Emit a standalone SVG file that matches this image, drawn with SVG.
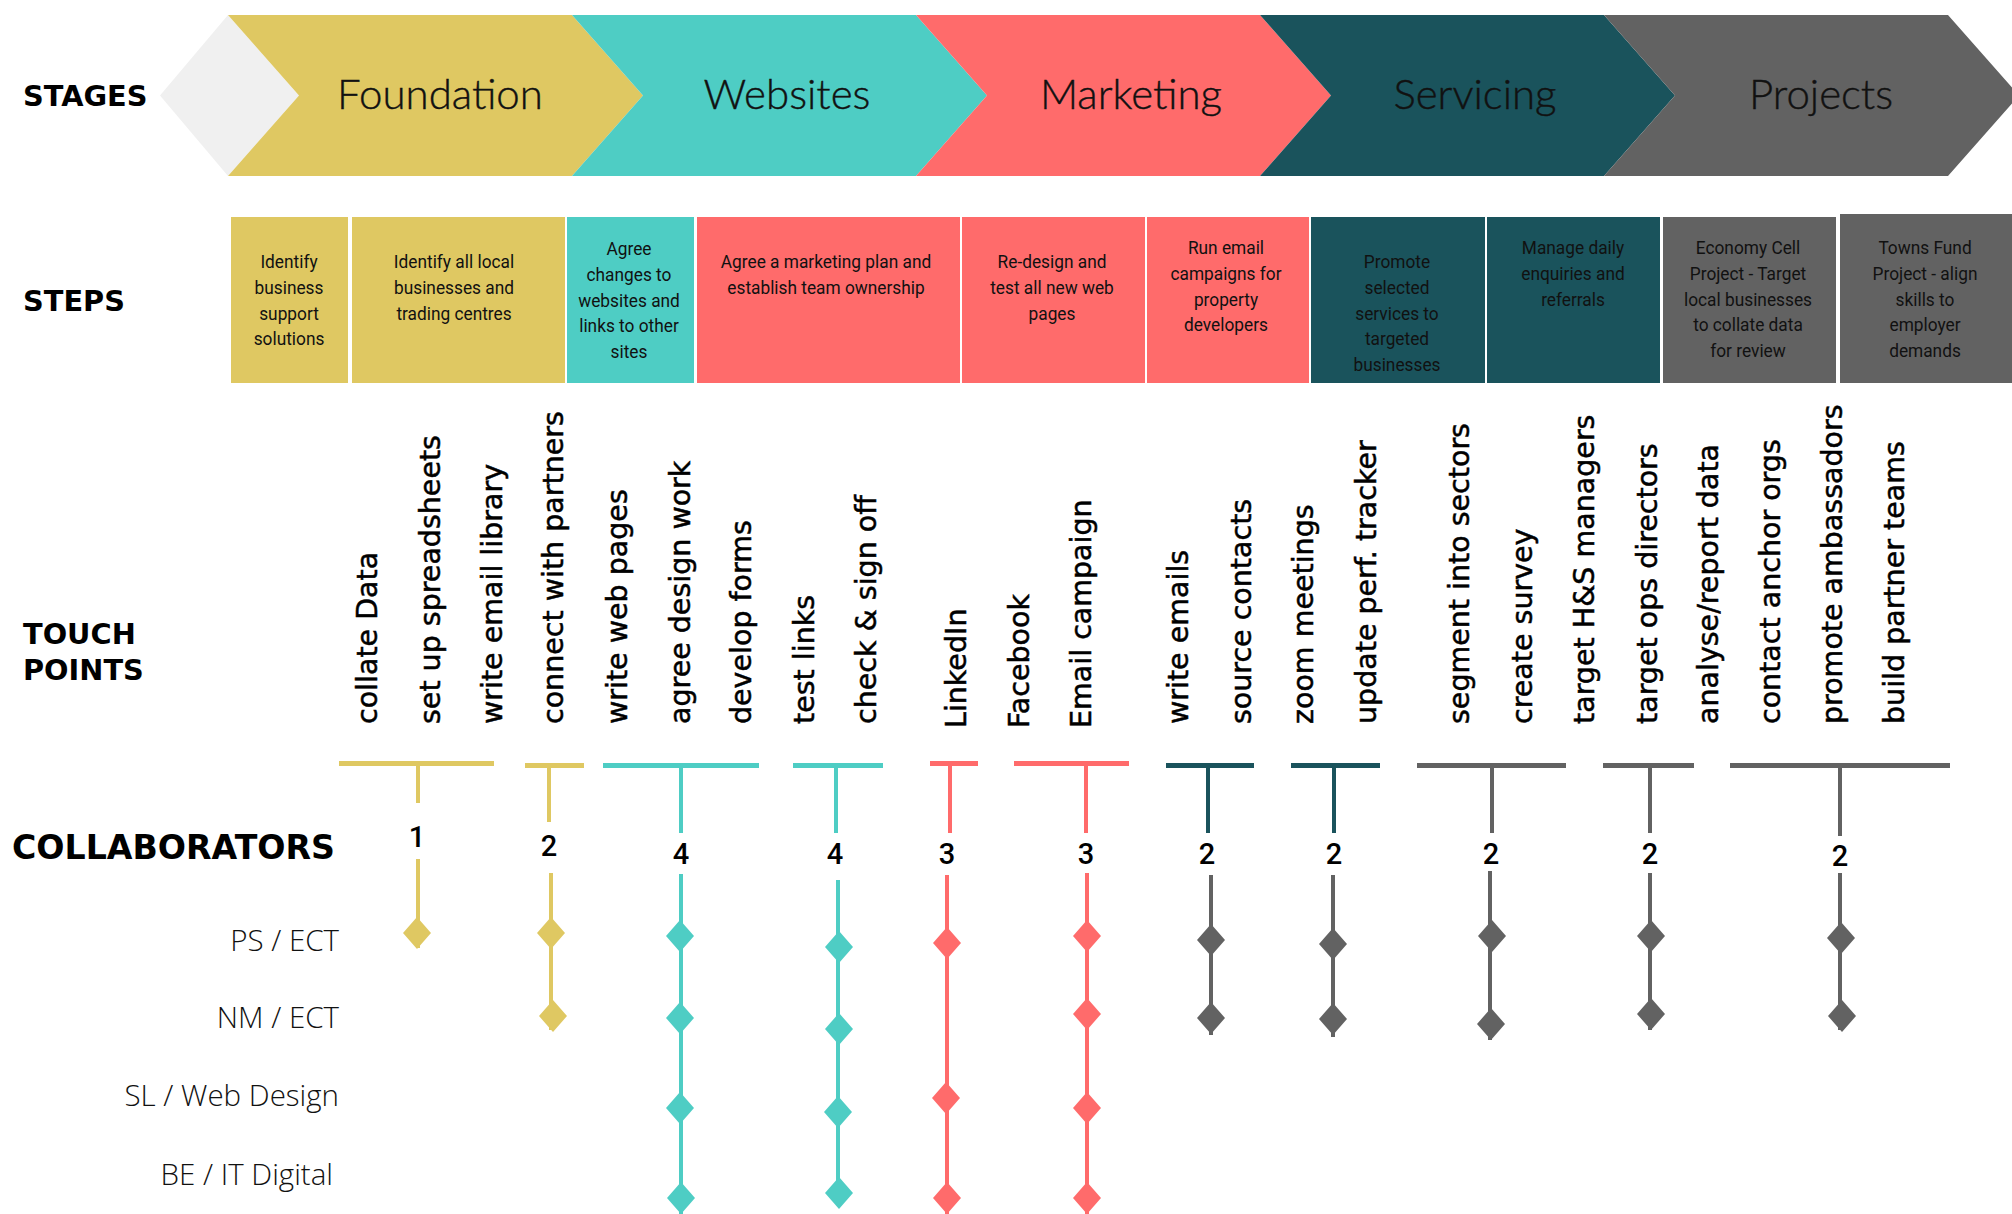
<svg xmlns="http://www.w3.org/2000/svg" xmlns:xlink="http://www.w3.org/1999/xlink" width="2012" height="1214" viewBox="0 0 2012 1214">
  <style>
    .hdr { font-family: "DejaVu Sans", "Liberation Sans", sans-serif; font-weight: bold; font-size: 28.8px; fill: #000; }
    .stage { font-family: Lato, "Open Sans", sans-serif; font-weight: 300; font-size: 42px; fill: #111; text-anchor: middle; stroke: #111; stroke-width: 0.4; }
    .step { font-family: Roboto, "Liberation Sans", sans-serif; font-size: 19px; fill: #111; text-anchor: middle; }
    .tp { font-family: "DejaVu Sans", "Liberation Sans", sans-serif; font-size: 28.5px; fill: #000; stroke: #000; stroke-width: 0.5; }
    .num { font-family: Roboto, "Liberation Sans", sans-serif; font-weight: 500; font-size: 29px; fill: #000; text-anchor: middle; }
    .who { font-family: "Open Sans", "Liberation Sans", sans-serif; font-weight: 300; font-size: 29.5px; fill: #111; text-anchor: end; }
    .yel { fill: #DFC862; } .tea { fill: #4ECDC4; } .cor { fill: #FF6B6B; } .dtl { fill: #1A535C; } .gry { fill: #626262; }
    .s-yel { stroke: #DFC862; } .s-tea { stroke: #4ECDC4; } .s-cor { stroke: #FF6B6B; } .s-dtl { stroke: #1A535C; } .s-gry { stroke: #626262; }
    .bar { stroke-width: 5; fill: none; }
    .stem { stroke-width: 4; fill: none; }
  </style>
  <defs>
    <path id="dia" d="M0,-16 L14,0 L0,16 L-14,0 Z"/>
  </defs>

  <rect width="2012" height="1214" fill="#fff"/>

  <!-- row headings -->
  <g id="headings">
    <text class="hdr" x="23" y="106">STAGES</text>
    <text class="hdr" x="23" y="311">STEPS</text>
    <text class="hdr" x="23" y="644">TOUCH</text>
    <text class="hdr" x="23" y="680">POINTS</text>
    <text class="hdr" x="12" y="859" style="font-size:33.2px">COLLABORATORS</text>
  </g>

  <!-- stage chevrons -->
  <g id="stage-start">
    <polygon points="228,15 299,95.5 228,176 160,95.5" fill="#F0F0F0"/>
  </g>
  <g id="stage-foundation">
    <polygon class="yel" points="228,15 572,15 643,95.5 572,176 228,176 299,95.5"/>
    <text class="stage" x="440" y="109">Foundation</text>
  </g>
  <g id="stage-websites">
    <polygon class="tea" points="572,15 916,15 987,95.5 916,176 572,176 643,95.5"/>
    <text class="stage" x="787" y="109">Websites</text>
  </g>
  <g id="stage-marketing">
    <polygon class="cor" points="916,15 1260,15 1331,95.5 1260,176 916,176 987,95.5"/>
    <text class="stage" x="1131" y="109">Marketing</text>
  </g>
  <g id="stage-servicing">
    <polygon class="dtl" points="1260,15 1604,15 1675,95.5 1604,176 1260,176 1331,95.5"/>
    <text class="stage" x="1475" y="109">Servicing</text>
  </g>
  <g id="stage-projects">
    <polygon class="gry" points="1604,15 1948,15 2019,95.5 1948,176 1604,176 1675,95.5"/>
    <text class="stage" x="1821" y="109">Projects</text>
  </g>

  <!-- step boxes -->
  <g id="step-1">
    <rect class="yel" x="231" y="217" width="117" height="166"/>
    <g transform="translate(289,0) scale(0.91,1)">
      <text class="step" x="0" y="268">Identify<tspan x="0" dy="25.8">business</tspan><tspan x="0" dy="25.8">support</tspan><tspan x="0" dy="25.8">solutions</tspan></text>
    </g>
  </g>
  <g id="step-2">
    <rect class="yel" x="352" y="217" width="213" height="166"/>
    <g transform="translate(454,0) scale(0.91,1)">
      <text class="step" x="0" y="268">Identify all local<tspan x="0" dy="25.8">businesses and</tspan><tspan x="0" dy="25.8">trading centres</tspan></text>
    </g>
  </g>
  <g id="step-3">
    <rect class="tea" x="567" y="217" width="127" height="166"/>
    <g transform="translate(629,0) scale(0.91,1)">
      <text class="step" x="0" y="255">Agree<tspan x="0" dy="25.8">changes to</tspan><tspan x="0" dy="25.8">websites and</tspan><tspan x="0" dy="25.8">links to other</tspan><tspan x="0" dy="25.8">sites</tspan></text>
    </g>
  </g>
  <g id="step-4">
    <rect class="cor" x="697" y="217" width="263" height="166"/>
    <g transform="translate(826,0) scale(0.91,1)">
      <text class="step" x="0" y="268">Agree a marketing plan and<tspan x="0" dy="25.8">establish team ownership</tspan></text>
    </g>
  </g>
  <g id="step-5">
    <rect class="cor" x="962" y="217" width="183" height="166"/>
    <g transform="translate(1052,0) scale(0.91,1)">
      <text class="step" x="0" y="268">Re-design and<tspan x="0" dy="25.8">test all new web</tspan><tspan x="0" dy="25.8">pages</tspan></text>
    </g>
  </g>
  <g id="step-6">
    <rect class="cor" x="1147" y="217" width="162" height="166"/>
    <g transform="translate(1226,0) scale(0.91,1)">
      <text class="step" x="0" y="254">Run email<tspan x="0" dy="25.8">campaigns for</tspan><tspan x="0" dy="25.8">property</tspan><tspan x="0" dy="25.8">developers</tspan></text>
    </g>
  </g>
  <g id="step-7">
    <rect class="dtl" x="1311" y="217" width="174" height="166"/>
    <g transform="translate(1397,0) scale(0.91,1)">
      <text class="step" x="0" y="268">Promote<tspan x="0" dy="25.8">selected</tspan><tspan x="0" dy="25.8">services to</tspan><tspan x="0" dy="25.8">targeted</tspan><tspan x="0" dy="25.8">businesses</tspan></text>
    </g>
  </g>
  <g id="step-8">
    <rect class="dtl" x="1487" y="217" width="173" height="166"/>
    <g transform="translate(1573,0) scale(0.91,1)">
      <text class="step" x="0" y="254">Manage daily<tspan x="0" dy="25.8">enquiries and</tspan><tspan x="0" dy="25.8">referrals</tspan></text>
    </g>
  </g>
  <g id="step-9">
    <rect class="gry" x="1663" y="217" width="173" height="166"/>
    <g transform="translate(1748,0) scale(0.91,1)">
      <text class="step" x="0" y="254">Economy Cell<tspan x="0" dy="25.8">Project - Target</tspan><tspan x="0" dy="25.8">local businesses</tspan><tspan x="0" dy="25.8">to collate data</tspan><tspan x="0" dy="25.8">for review</tspan></text>
    </g>
  </g>
  <g id="step-10">
    <rect class="gry" x="1840" y="214" width="172" height="169"/>
    <g transform="translate(1925,0) scale(0.91,1)">
      <text class="step" x="0" y="254">Towns Fund<tspan x="0" dy="25.8">Project - align</tspan><tspan x="0" dy="25.8">skills to</tspan><tspan x="0" dy="25.8">employer</tspan><tspan x="0" dy="25.8">demands</tspan></text>
    </g>
  </g>

  <!-- touch points (vertical labels) -->
  <g id="touch-points">
    <text class="tp" transform="translate(377,724) rotate(-90)">collate Data</text>
    <text class="tp" transform="translate(440,724) rotate(-90)">set up spreadsheets</text>
    <text class="tp" transform="translate(502,724) rotate(-90)">write email library</text>
    <text class="tp" transform="translate(563,724) rotate(-90)">connect with partners</text>
    <text class="tp" transform="translate(627,724) rotate(-90)">write web pages</text>
    <text class="tp" transform="translate(690,724) rotate(-90)">agree design work</text>
    <text class="tp" transform="translate(751,724) rotate(-90)">develop forms</text>
    <text class="tp" transform="translate(814,724) rotate(-90)">test links</text>
    <text class="tp" transform="translate(876,724) rotate(-90)">check &amp; sign off</text>
    <text class="tp" transform="translate(966,728) rotate(-90)">LinkedIn</text>
    <text class="tp" transform="translate(1029,728) rotate(-90)">Facebook</text>
    <text class="tp" transform="translate(1091,728) rotate(-90)">Email campaign</text>
    <text class="tp" transform="translate(1188,724) rotate(-90)">write emails</text>
    <text class="tp" transform="translate(1251,724) rotate(-90)">source contacts</text>
    <text class="tp" transform="translate(1313,724) rotate(-90)">zoom meetings</text>
    <text class="tp" transform="translate(1376,724) rotate(-90)">update perf. tracker</text>
    <text class="tp" transform="translate(1469,724) rotate(-90)">segment into sectors</text>
    <text class="tp" transform="translate(1532,724) rotate(-90)">create survey</text>
    <text class="tp" transform="translate(1594,724) rotate(-90)">target H&amp;S managers</text>
    <text class="tp" transform="translate(1657,724) rotate(-90)">target ops directors</text>
    <text class="tp" transform="translate(1718,724) rotate(-90)">analyse/report data</text>
    <text class="tp" transform="translate(1780,724) rotate(-90)">contact anchor orgs</text>
    <text class="tp" transform="translate(1842,724) rotate(-90)">promote ambassadors</text>
    <text class="tp" transform="translate(1904,724) rotate(-90)">build partner teams</text>
  </g>

  <!-- collaborator names -->
  <g id="collaborators">
    <text class="who" x="339" y="951">PS / ECT</text>
    <text class="who" x="339" y="1028">NM / ECT</text>
    <text class="who" x="339" y="1106">SL / Web Design</text>
    <text class="who" x="333" y="1185">BE / IT Digital</text>
  </g>

  <!-- connectors: brackets, stems and collaborator lines -->
  <g id="connectors">
    <!-- brackets over touch-point groups -->
    <line class="bar s-yel" x1="339" y1="763.5" x2="494" y2="763.5"/>
    <line class="bar s-yel" x1="525" y1="765.5" x2="584" y2="765.5"/>
    <line class="bar s-tea" x1="603" y1="765.5" x2="759" y2="765.5"/>
    <line class="bar s-tea" x1="793" y1="765.5" x2="883" y2="765.5"/>
    <line class="bar s-cor" x1="930" y1="763.5" x2="978" y2="763.5"/>
    <line class="bar s-cor" x1="1014" y1="763.5" x2="1129" y2="763.5"/>
    <line class="bar s-dtl" x1="1166" y1="765.5" x2="1254" y2="765.5"/>
    <line class="bar s-dtl" x1="1291" y1="765.5" x2="1380" y2="765.5"/>
    <line class="bar s-gry" x1="1417" y1="765.5" x2="1566" y2="765.5"/>
    <line class="bar s-gry" x1="1603" y1="765.5" x2="1694" y2="765.5"/>
    <line class="bar s-gry" x1="1730" y1="765.5" x2="1950" y2="765.5"/>

    <!-- stems down to the counts -->
    <line class="stem s-yel" x1="418" y1="766" x2="418" y2="803"/>
    <line class="stem s-yel" x1="549" y1="768" x2="549" y2="822"/>
    <line class="stem s-tea" x1="681" y1="768" x2="681" y2="833"/>
    <line class="stem s-tea" x1="836" y1="768" x2="836" y2="833"/>
    <line class="stem s-cor" x1="950" y1="766" x2="950" y2="833"/>
    <line class="stem s-cor" x1="1086" y1="766" x2="1086" y2="833"/>
    <line class="stem s-dtl" x1="1208" y1="768" x2="1208" y2="833"/>
    <line class="stem s-dtl" x1="1334" y1="768" x2="1334" y2="833"/>
    <line class="stem s-gry" x1="1492" y1="768" x2="1492" y2="833"/>
    <line class="stem s-gry" x1="1650" y1="768" x2="1650" y2="833"/>
    <line class="stem s-gry" x1="1840" y1="768" x2="1840" y2="836"/>

    <!-- lines from the counts through the collaborators -->
    <line class="stem s-yel" x1="418" y1="859" x2="418" y2="948"/>
    <line class="stem s-yel" x1="551" y1="873" x2="551" y2="1030"/>
    <line class="stem s-tea" x1="681" y1="874" x2="681" y2="1214"/>
    <line class="stem s-tea" x1="838" y1="880" x2="838" y2="1205"/>
    <line class="stem s-cor" x1="947" y1="875" x2="947" y2="1214"/>
    <line class="stem s-cor" x1="1087" y1="873" x2="1087" y2="1214"/>
    <line class="stem s-gry" x1="1211" y1="875" x2="1211" y2="1035"/>
    <line class="stem s-gry" x1="1333" y1="875" x2="1333" y2="1037"/>
    <line class="stem s-gry" x1="1490" y1="871" x2="1490" y2="1040"/>
    <line class="stem s-gry" x1="1650" y1="873" x2="1650" y2="1030"/>
    <line class="stem s-gry" x1="1840" y1="873" x2="1840" y2="1030"/>
  </g>

  <!-- collaborator counts -->
  <g id="counts">
    <text class="num" x="417" y="847">1</text>
    <text class="num" x="549" y="856">2</text>
    <text class="num" x="681" y="864">4</text>
    <text class="num" x="835" y="864">4</text>
    <text class="num" x="947" y="864">3</text>
    <text class="num" x="1086" y="864">3</text>
    <text class="num" x="1207" y="864">2</text>
    <text class="num" x="1334" y="864">2</text>
    <text class="num" x="1491" y="864">2</text>
    <text class="num" x="1650" y="864">2</text>
    <text class="num" x="1840" y="866">2</text>
  </g>

  <!-- collaborator markers -->
  <g id="markers">
    <use xlink:href="#dia" class="yel" x="417" y="933"/>
    <use xlink:href="#dia" class="yel" x="551" y="933"/>
    <use xlink:href="#dia" class="yel" x="553" y="1016"/>

    <use xlink:href="#dia" class="tea" x="680" y="936"/>
    <use xlink:href="#dia" class="tea" x="680" y="1018"/>
    <use xlink:href="#dia" class="tea" x="680" y="1108"/>
    <use xlink:href="#dia" class="tea" x="681" y="1198"/>

    <use xlink:href="#dia" class="tea" x="839" y="947"/>
    <use xlink:href="#dia" class="tea" x="839" y="1029"/>
    <use xlink:href="#dia" class="tea" x="838" y="1112"/>
    <use xlink:href="#dia" class="tea" x="839" y="1193"/>

    <use xlink:href="#dia" class="cor" x="947" y="943"/>
    <use xlink:href="#dia" class="cor" x="946" y="1098"/>
    <use xlink:href="#dia" class="cor" x="947" y="1198"/>

    <use xlink:href="#dia" class="cor" x="1087" y="936"/>
    <use xlink:href="#dia" class="cor" x="1087" y="1014"/>
    <use xlink:href="#dia" class="cor" x="1087" y="1108"/>
    <use xlink:href="#dia" class="cor" x="1087" y="1198"/>

    <use xlink:href="#dia" class="gry" x="1211" y="940"/>
    <use xlink:href="#dia" class="gry" x="1211" y="1018"/>

    <use xlink:href="#dia" class="gry" x="1333" y="944"/>
    <use xlink:href="#dia" class="gry" x="1333" y="1019"/>

    <use xlink:href="#dia" class="gry" x="1492" y="936"/>
    <use xlink:href="#dia" class="gry" x="1491" y="1024"/>

    <use xlink:href="#dia" class="gry" x="1651" y="936"/>
    <use xlink:href="#dia" class="gry" x="1651" y="1014"/>

    <use xlink:href="#dia" class="gry" x="1841" y="938"/>
    <use xlink:href="#dia" class="gry" x="1842" y="1016"/>
  </g>
</svg>
